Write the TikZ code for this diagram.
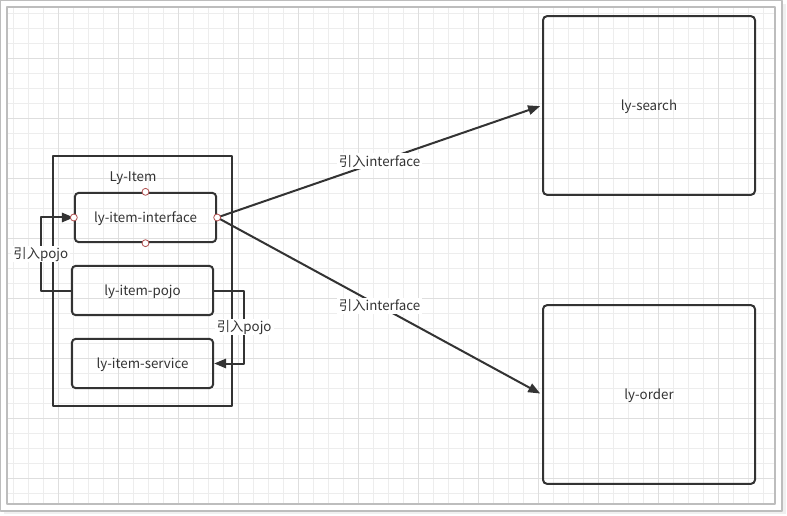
\documentclass[tikz,border=0pt]{standalone}
\usepackage{fontspec}
\setmainfont{Noto Sans CJK SC}
\usetikzlibrary{arrows.meta}
\definecolor{ink}{HTML}{333333}
\definecolor{gridminor}{HTML}{EDEDED}
\definecolor{gridmajor}{HTML}{DEDEDE}
\definecolor{frame}{HTML}{BDBDBD}
\definecolor{port}{HTML}{B05050}

\begin{document}
\begin{tikzpicture}[x=0.75pt,y=-0.75pt,>={Triangle[length=9pt,width=7pt]},line join=round,
  box/.style={draw=ink,line width=1.5pt,rounded corners=3pt,minimum width=106pt,minimum height=37pt,inner sep=0pt,text=ink,text height=7.5pt,text depth=0pt,font=\fontsize{10}{12}\selectfont},
  bigbox/.style={draw=ink,line width=1.5pt,rounded corners=3pt,minimum width=159pt,minimum height=134pt,inner sep=0pt,text=ink,text height=7.5pt,text depth=0pt,font=\fontsize{10}{12}\selectfont},
  link/.style={->,draw=ink,line width=1.5pt},
  tag/.style={fill=white,inner sep=1.5pt,text=ink,text height=8pt,text depth=1pt,font=\fontsize{10}{12}\selectfont}]
\useasboundingbox (0,0) rectangle (787,516);
% frame and grid
\fill[black!6] (4,4) rectangle (786,514);
\fill[white,draw=frame,line width=0.8pt] (0.5,0.5) rectangle (782,511);
\begin{scope}
\clip (7,7) rectangle (775,504);
\foreach \k in {0,...,51} {
  \draw[gridminor,line width=0.75pt] (13.3+15*\k,7) -- (13.3+15*\k,504);
  \draw[gridminor,line width=0.75pt] (7,13.3+15*\k) -- (775,13.3+15*\k);
}
\foreach \k in {0,...,13} {
  \draw[gridmajor,line width=0.75pt] (-1.7+60*\k,7) -- (-1.7+60*\k,504);
  \draw[gridmajor,line width=0.75pt] (7,-1.7+60*\k) -- (775,-1.7+60*\k);
}
\end{scope}
\draw[frame,line width=0.8pt] (7,7) rectangle (775,504);
% module Ly-Item
\draw[ink,line width=1.5pt] (53,156) rectangle (232,406);
\node[text=ink,text height=7.5pt,text depth=0pt,font=\fontsize{10}{12}\selectfont] (lyitem) at (133,177) {Ly-Item};
\node[box] (interface) at (145.5,217.5) {ly-item-interface};
\node[box] (pojo) at (142.5,290.5) {ly-item-pojo};
\node[box] (service) at (142.5,363.5) {ly-item-service};
% services
\node[bigbox] (search) at (649,105.5) {ly-search};
\node[bigbox] (order) at (649,394.5) {ly-order};
% connectors
\draw[link] (pojo.west) -- ++(-30,0) |- (interface.west) node[tag,pos=0.25] {引入pojo};
\draw[link] (pojo.east) -- ++(30,0) |- (service.east) node[tag,pos=0.25] {引入pojo};
\draw[link,shorten >=1.5pt] (interface.east) -- (search.west) node[tag,pos=0.5] {引入interface};
\draw[link,shorten >=1.5pt] (interface.east) -- (order.west) node[tag,pos=0.5] {引入interface};
% ports
\foreach \a in {north,south,west,east}
  \draw[port,fill=white,line width=0.6pt] (interface.\a) circle (2.6pt);
\end{tikzpicture}
\end{document}
